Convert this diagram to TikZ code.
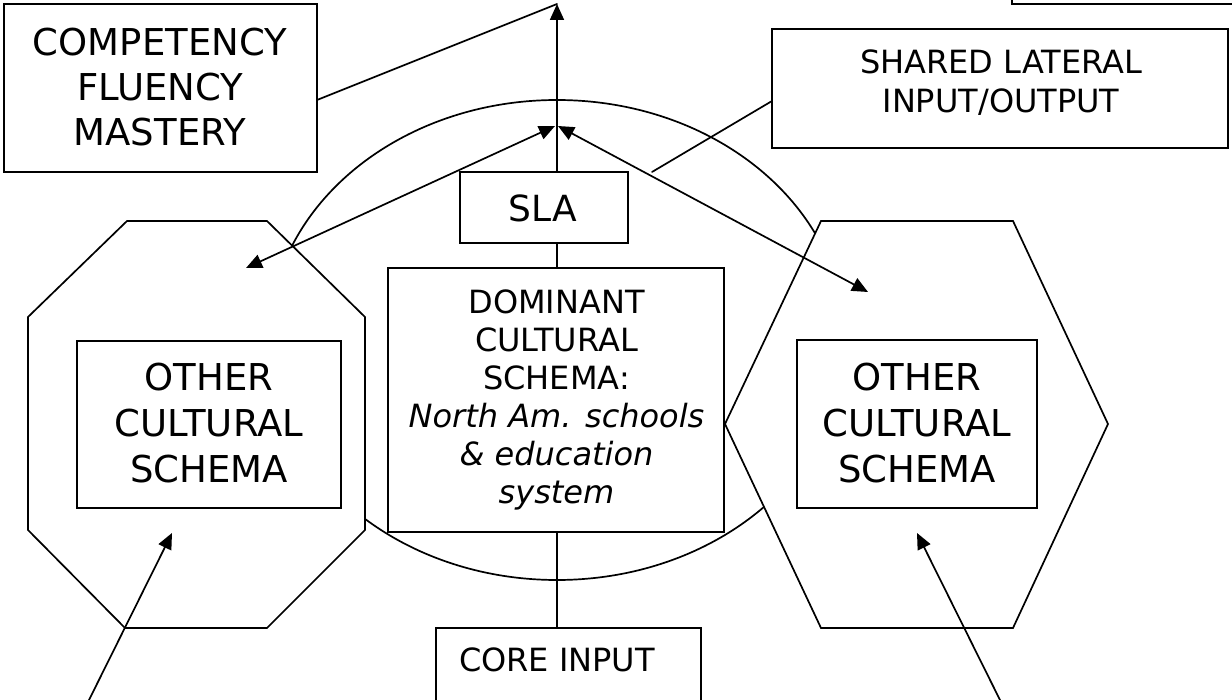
\documentclass[tikz,border=0pt]{standalone}
\usepackage{fontspec}
\setmainfont{DejaVu Sans}
\usetikzlibrary{arrows.meta,shapes.geometric}
\newcommand\fsz[2]{\fontsize{#1}{#2}\selectfont}
\tikzset{
  ln/.style={line width=1.7pt, line cap=round},
  arr/.style={ln, -{Triangle[length=16pt,width=14pt]}},
  darr/.style={ln, {Triangle[length=16pt,width=14pt]}-{Triangle[length=16pt,width=14pt]}},
  boxnode/.style={draw, line width=1.7pt, fill=white, inner sep=0pt, outer sep=0pt},
  shapefill/.style={draw, line width=1.7pt, fill=white, line join=miter},
  txt/.style={inner sep=0pt, outer sep=0pt, anchor=north, align=center}
}
\begin{document}
\begin{tikzpicture}[x=1pt,y=-1pt]
\useasboundingbox (0,0) rectangle (1232,700);
% big oval
\node[draw, line width=1.7pt, ellipse, minimum width=576pt, minimum height=480pt, inner sep=0pt, outer sep=0pt] (oval) at (557,340) {};
% octagon and hexagon
\draw[shapefill] (127,221) -- (267,221) -- (365,317) -- (365,530) -- (267,628) -- (125,628) -- (28,530) -- (28,317) -- cycle;
\draw[shapefill] (821,221) -- (1013,221) -- (1108,424) -- (1013,628) -- (821,628) -- (725,424) -- cycle;
% boxes
\node[boxnode, minimum width=228pt, minimum height=90pt] (corner) at (1126,-41) {};
\node[boxnode, minimum width=313pt, minimum height=168pt] (comp) at (160.5,88) {};
\node[boxnode, minimum width=456pt, minimum height=119pt] (shared) at (1000,88.5) {};
\node[boxnode, minimum width=168pt, minimum height=71pt] (sla) at (544,207.5) {};
\node[boxnode, minimum width=336pt, minimum height=264pt] (dom) at (556,400) {};
\node[boxnode, minimum width=265pt, minimum height=92pt] (core) at (568.5,674) {};
\node[boxnode, minimum width=264pt, minimum height=167pt] (otherL) at (209,424.5) {};
\node[boxnode, minimum width=240pt, minimum height=168pt] (otherR) at (917,424) {};
% texts
\node[txt, font=\fsz{37}{45}] (tcomp) at (160,28) {COMPETENCY\\FLUENCY\\MASTERY};
\node[txt, font=\fsz{32}{39}] (tshared) at (1001,50) {SHARED LATERAL\\INPUT/OUTPUT};
\node[txt, font=\fsz{36}{40}] (tsla) at (543,195) {SLA};
\node[txt, font=\fsz{32}{38}] (tdom) at (556.5,290) {DOMINANT\\CULTURAL\\SCHEMA:\\\itshape North Am. schools\\\itshape \& education\\\itshape system};
\node[txt, font=\fsz{32}{38}] (tcore) at (557,648) {CORE INPUT};
\node[txt, font=\fsz{37}{46}] (tothL) at (209,363) {OTHER\\CULTURAL\\SCHEMA};
\node[txt, font=\fsz{37}{46}] (tothR) at (917,363) {OTHER\\CULTURAL\\SCHEMA};
% coordinates
\coordinate (axis) at (557,0);
\coordinate (top) at (557,4);
\coordinate (hubL) at (555,126);
\coordinate (hubR) at (558,126);
\coordinate (tipL) at (246,268);
\coordinate (tipR) at (868,292);
\coordinate (sharedEnd) at (652,172);
\coordinate (srcBL) at (88,702);
\coordinate (tipBL) at (172,533);
\coordinate (srcBR) at (1001,702);
\coordinate (tipBR) at (917,533);
% connectors
\draw[ln] ([yshift=-12pt]comp.east) -- (top);
\draw[arr] (sla.north -| axis) -- (top);
\draw[ln] (sla.south -| axis) -- (dom.north -| axis);
\draw[ln] (dom.south -| axis) -- (core.north -| axis);
\draw[ln] ([yshift=-12.5pt]shared.west) -- (sharedEnd);
\draw[darr] (tipL) -- (hubL);
\draw[darr] (tipR) -- (hubR);
\draw[arr] (srcBL) -- (tipBL);
\draw[arr] (srcBR) -- (tipBR);
\end{tikzpicture}
\end{document}
